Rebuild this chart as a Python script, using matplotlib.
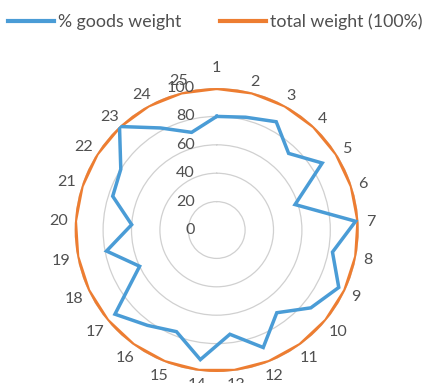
import matplotlib
matplotlib.use("Agg")
import matplotlib.pyplot as plt
import numpy as np

plt.rcParams['font.family'] = ['Lato', 'DejaVu Sans']

# categories 1..25 and values
categories = [str(i) for i in range(1, 26)]
goods_weight = [80, 82, 87, 74, 88, 58, 98, 83, 95, 86, 72, 89, 74,
                92, 77, 83, 93, 60, 79, 60, 77, 80, 100, 82, 71]
total_weight = [100] * 25
r_ticks = [0, 20, 40, 60, 80, 100]

blue = '#4A9CD6'
orange = '#ED7D31'
txt = '#505050'
fs = 11.6

fig = plt.figure(figsize=(4.31, 3.83), dpi=100)
ax = fig.add_axes([0.1733, 0.0287, 0.659, 0.7415], projection='polar')
ax.set_theta_zero_location('N')
ax.set_theta_direction(-1)

n = len(categories)
theta = np.arange(n) * 2 * np.pi / n
th_closed = np.append(theta, theta[0])

l1, = ax.plot(th_closed, goods_weight + goods_weight[:1], color=blue, lw=2.5,
              solid_joinstyle='miter', label='% goods weight', zorder=3)
l2, = ax.plot(th_closed, total_weight + total_weight[:1], color=orange, lw=3.0,
              solid_joinstyle='miter', label='total weight (100%)', zorder=2)

ax.set_ylim(0, 100)
ax.set_yticks(r_ticks[1:])
ax.set_yticklabels([])
ax.set_xticks(theta)
ax.set_xticklabels([])
ax.xaxis.grid(False)
ax.yaxis.grid(True, color='#D0D0D0', lw=0.9)
ax.spines['polar'].set_visible(False)
ax.tick_params(length=0)

# radial value labels, left of the vertical axis
for v in r_ticks:
    ax.annotate(str(v), xy=(0, v), xytext=(-15.6, 0), textcoords='offset points',
                ha='right', va='center', fontsize=fs, color=txt)

# category labels round the outside (centred on a ring ~12px outside the 100 line)
for t, lab in zip(theta, categories):
    s, c = np.sin(t), np.cos(t)
    d = 12 + 4.5 * (len(lab) - 1) * abs(s)   # px beyond the outer ring
    if abs(s) < 1e-6 and c > 0:
        d += 9                                  # clear the value axis labels
    dx, dy = d * s * 0.72, d * c * 0.72 - 1.0   # to points
    ax.annotate(lab, xy=(t, 100), xytext=(dx, dy), textcoords='offset points',
                ha='center', va='center', fontsize=fs, color=txt, annotation_clip=False)

leg = fig.legend(handles=[l1, l2], loc='center left', ncol=2,
                 bbox_to_anchor=(8 / 431, 1 - 22 / 383), bbox_transform=fig.transFigure,
                 frameon=False, fontsize=12.8, handlelength=2.6, handletextpad=0.2,
                 columnspacing=2.2, borderpad=0, borderaxespad=0)
for h in leg.get_lines():
    h.set_linewidth(3.0)
for t in leg.get_texts():
    t.set_color(txt)

fig.savefig('out.png', dpi=100)
